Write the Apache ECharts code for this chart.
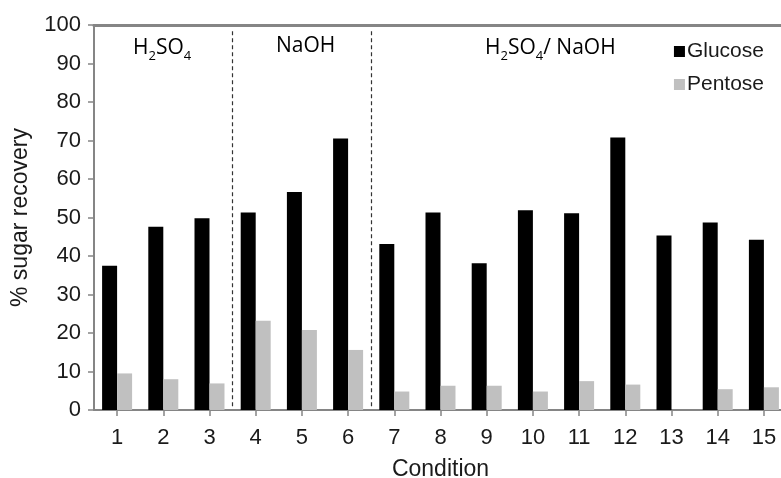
<!DOCTYPE html>
<html>
<head>
<meta charset="utf-8">
<script src="https://cdn.jsdelivr.net/npm/echarts@6/dist/echarts.min.js"></script>
<style>html,body{margin:0;padding:0;background:#fff}#c{width:781px;height:478px}</style>
</head>
<body>
<div id="c"></div>
<script>
var categories = ['1','2','3','4','5','6','7','8','9','10','11','12','13','14','15'];
var glucose = [37.5, 47.6, 49.8, 51.3, 56.6, 70.5, 43.1, 51.3, 38.1, 51.9, 51.1, 70.8, 45.3, 48.7, 44.2];
var pentose = [9.5, 8.0, 6.9, 23.2, 20.8, 15.6, 4.8, 6.3, 6.3, 4.8, 7.5, 6.6, 0, 5.4, 5.9];
var yTicks = [0, 10, 20, 30, 40, 50, 60, 70, 80, 90, 100];
var groupSeparators = [3.5, 6.5];

var chart = echarts.init(document.getElementById('c'));
var axisGray = '#858585';
var txt = '#1a1a1a';
var rich = {
  m: {fontFamily: 'Open Sans', fontSize: 21, color: txt, lineHeight: 28, verticalAlign: 'middle'},
  s: {fontFamily: 'Open Sans', fontSize: 13, color: txt, lineHeight: 8, verticalAlign: 'bottom'}
};
chart.setOption({
  animation: false,
  backgroundColor: '#fff',
  grid: {left: 94, right: -6, top: 25, bottom: 68, containLabel: false, outerBoundsMode: 'none'},
  legend: {
    orient: 'vertical', right: 12, top: 36, itemWidth: 11, itemHeight: 11, itemGap: 12,
    icon: 'rect',
    textStyle: {fontFamily: 'Liberation Sans', fontSize: 21, color: txt, padding: [0,0,0,-3]},
    data: ['Glucose', 'Pentose']
  },
  xAxis: [{
    type: 'category', data: categories, position: 'bottom',
    axisLine: {show: true, lineStyle: {color: axisGray, width: 2}},
    axisTick: {show: true, alignWithLabel: true, length: 6, lineStyle: {color: axisGray, width: 1.5}},
    axisLabel: {fontFamily: 'Liberation Sans', fontSize: 22, color: txt, margin: 17},
    name: 'Condition', nameLocation: 'middle', nameGap: 48,
    nameTextStyle: {fontFamily: 'Liberation Sans', fontSize: 23, color: txt}
  }, {
    type: 'category', data: categories, position: 'top',
    axisLine: {show: true, lineStyle: {color: axisGray, width: 3}},
    axisTick: {show: false}, axisLabel: {show: false}
  }, {
    type: 'value', min: 0.5, max: 15.5, show: false
  }],
  yAxis: {
    type: 'value', min: yTicks[0], max: yTicks[yTicks.length - 1], interval: 10,
    axisLine: {show: true, lineStyle: {color: axisGray, width: 2}},
    axisTick: {show: true, length: 6, lineStyle: {color: axisGray, width: 1.5}},
    axisLabel: {fontFamily: 'Liberation Sans', fontSize: 22, color: txt, margin: 13},
    splitLine: {show: false},
    name: '% sugar recovery', nameLocation: 'middle', nameGap: 62,
    nameTextStyle: {fontFamily: 'Liberation Sans', fontSize: 23, color: txt}
  },
  series: [{
    name: 'Glucose', type: 'bar', data: glucose, barWidth: 15, barGap: '0%',
    itemStyle: {color: '#000000'}
  }, {
    name: 'Pentose', type: 'bar', data: pentose, barWidth: 15, barGap: '0%',
    itemStyle: {color: '#c0c0c0'}
  }, {
    name: 'sep', type: 'line', xAxisIndex: 2, data: [], silent: true,
    markLine: {
      symbol: 'none', silent: true, label: {show: false},
      lineStyle: {color: '#333', width: 1.2, type: [4, 3]},
      data: groupSeparators.map(function (x) { return [{coord: [x, 1]}, {coord: [x, 98.5]}]; })
    }
  }],
  graphic: [
    {type: 'text', left: 133, top: 38, style: {text: '{m|H}{s|2}{m|SO}{s|4}', rich: rich}},
    {type: 'text', left: 276, top: 36, style: {text: '{m|NaOH}', rich: rich}},
    {type: 'text', left: 485, top: 38, style: {text: '{m|H}{s|2}{m|SO}{s|4}{m|/ NaOH}', rich: rich}}
  ]
});
</script>
</body>
</html>
